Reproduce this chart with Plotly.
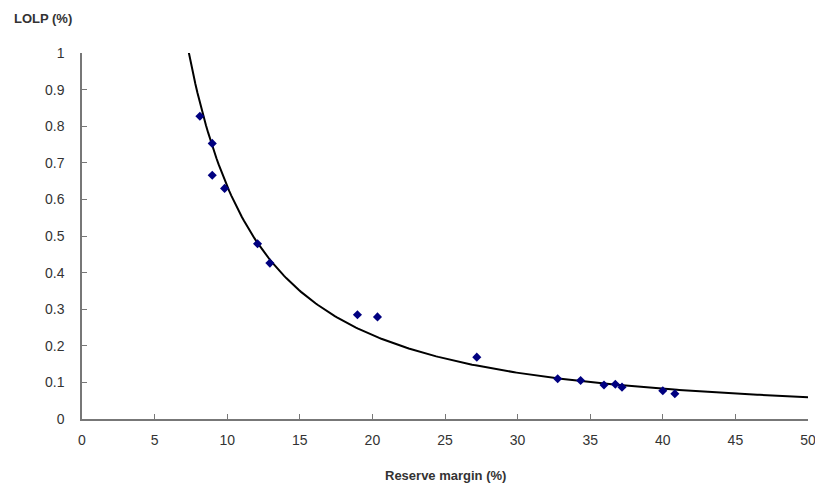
import numpy as np
import plotly.graph_objects as go

# Observed data points (reserve margin %, LOLP %)
reserve_margin = [8.12, 8.97, 8.97, 9.82, 12.09, 12.94, 18.97, 20.35, 27.19,
                  32.76, 34.34, 35.95, 36.73, 37.19, 40.0, 40.83]
lolp = [0.827, 0.753, 0.666, 0.630, 0.479, 0.426, 0.285, 0.279, 0.169,
        0.110, 0.105, 0.093, 0.095, 0.087, 0.077, 0.069]

x_ticks = [0, 5, 10, 15, 20, 25, 30, 35, 40, 45, 50]
y_ticks = [0, 0.1, 0.2, 0.3, 0.4, 0.5, 0.6, 0.7, 0.8, 0.9, 1]
y_tick_labels = ["0", "0.1", "0.2", "0.3", "0.4", "0.5", "0.6", "0.7", "0.8", "0.9", "1"]

# Power trendline fitted to the data (as a spreadsheet power trendline does)
b, ln_a = np.polyfit(np.log(reserve_margin), np.log(lolp), 1)
trend_x = np.linspace(6.5, 50, 300)
trend_y = np.exp(ln_a) * trend_x ** b

fig = go.Figure()
fig.add_trace(go.Scatter(x=trend_x, y=trend_y, mode="lines",
                         line=dict(color="black", width=2), hoverinfo="skip",
                         showlegend=False))
fig.add_trace(go.Scatter(x=reserve_margin, y=lolp, mode="markers",
                         marker=dict(symbol="diamond", size=7, color="#000080"),
                         showlegend=False, cliponaxis=False))

axis_font = dict(family="Liberation Sans, Arial, sans-serif", size=14, color="#333333")
fig.update_layout(
    width=815, height=487,
    margin=dict(l=82, r=7, t=53, b=68),
    paper_bgcolor="white", plot_bgcolor="white",
    xaxis=dict(range=[0, 50], tickvals=x_ticks, ticks="inside", ticklen=5,
               tickcolor="#777777", showline=True, linecolor="#777777", linewidth=1.5,
               showgrid=False, zeroline=False, tickfont=axis_font, automargin=False,
               ticklabelstandoff=7, ticklabeloverflow="allow"),
    yaxis=dict(range=[0, 1], tickvals=y_ticks, ticktext=y_tick_labels,
               ticks="inside", ticklen=5, tickcolor="#777777", showline=True,
               linecolor="#777777", linewidth=1.5, showgrid=False, zeroline=False,
               tickfont=axis_font, automargin=False,
               ticklabelstandoff=13, ticklabeloverflow="allow"),
    annotations=[
        dict(text="<b>LOLP (%)</b>", xref="paper", yref="paper",
             x=(12 - 82) / 726, y=1 + (53 - 18) / 366, xanchor="left", yanchor="middle",
             showarrow=False, font=dict(family="Liberation Sans, Arial, sans-serif",
                                        size=13, color="#333333")),
        dict(text="<b>Reserve margin (%)</b>", xref="paper", yref="paper",
             x=(445 - 82) / 726, y=-(475 - 419) / 366, xanchor="center", yanchor="middle",
             showarrow=False, font=dict(family="Liberation Sans, Arial, sans-serif",
                                        size=13, color="#333333")),
    ],
)

fig.write_html("out.html", config={"displayModeBar": False},
               post_script="document.body.style.margin='0';document.body.style.overflow='hidden';")
